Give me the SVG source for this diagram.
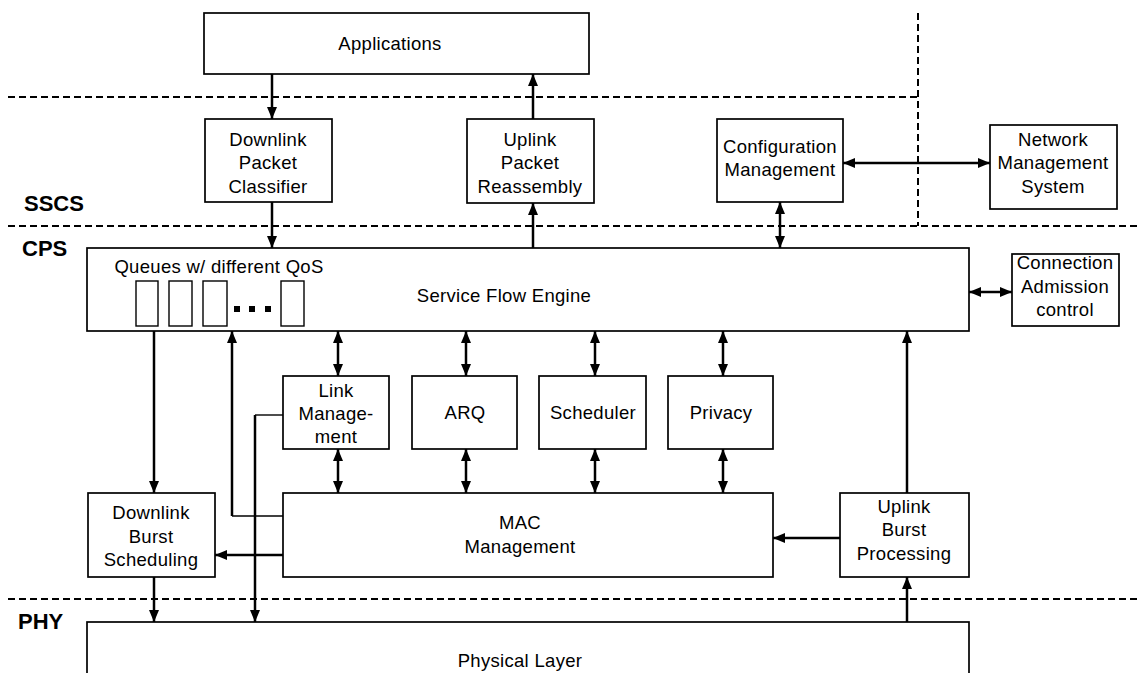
<svg xmlns="http://www.w3.org/2000/svg" width="1140" height="673" viewBox="0 0 1140 673">
  <defs>
    <marker id="head" markerUnits="userSpaceOnUse" markerWidth="13" markerHeight="11" refX="12" refY="5" orient="auto-start-reverse">
      <path d="M0,0 L12,5 L0,10 z" fill="#000"/>
    </marker>
    <style>
      .box { fill: #fff; stroke: #000; stroke-width: 1.7; }
      .q { fill: #fff; stroke: #000; stroke-width: 1.4; }
      .lbl { font-family: "Liberation Sans", Arial, Helvetica, sans-serif; font-size: 18.5px; letter-spacing: 0.3px; fill: #000; text-anchor: middle; }
      .layer { font-family: "Liberation Sans", Arial, Helvetica, sans-serif; font-size: 22px; font-weight: bold; fill: #000; }
      .dash { fill: none; stroke: #000; stroke-width: 2; stroke-dasharray: 7 4; }
      .wire { fill: none; stroke: #000; stroke-width: 2.5; }
      .thin { fill: none; stroke: #000; stroke-width: 1.4; }
      .one { marker-end: url(#head); }
      .two { marker-start: url(#head); marker-end: url(#head); }
    </style>
  </defs>
  <rect x="0" y="0" width="1140" height="673" fill="#fff"/>

  <!-- layer boundaries -->
  <g id="boundaries">
    <path class="dash" d="M8,97 H918"/>
    <path class="dash" d="M918,13 V226"/>
    <path class="dash" d="M8,226 H1140"/>
    <path class="dash" d="M8,599 H1140"/>
    <text class="layer" x="24" y="211">SSCS</text>
    <text class="layer" x="22" y="256">CPS</text>
    <text class="layer" x="18" y="629">PHY</text>
  </g>

  <g id="applications">
    <rect class="box" x="204" y="13" width="385" height="61"/>
    <text class="lbl" x="390" y="50">Applications</text>
  </g>

  <g id="downlink-packet-classifier">
    <rect class="box" x="205" y="119" width="127" height="83"/>
    <text class="lbl" x="268" y="146">Downlink</text>
    <text class="lbl" x="268" y="169">Packet</text>
    <text class="lbl" x="268" y="193">Classifier</text>
  </g>

  <g id="uplink-packet-reassembly">
    <rect class="box" x="467" y="119" width="127" height="84"/>
    <text class="lbl" x="530" y="146">Uplink</text>
    <text class="lbl" x="530" y="169">Packet</text>
    <text class="lbl" x="530" y="193">Reassembly</text>
  </g>

  <g id="configuration-management">
    <rect class="box" x="717" y="119" width="126" height="83"/>
    <text class="lbl" x="780" y="153">Configuration</text>
    <text class="lbl" x="780" y="176">Management</text>
  </g>

  <g id="network-management-system">
    <rect class="box" x="990" y="125" width="127" height="84"/>
    <text class="lbl" x="1053" y="146">Network</text>
    <text class="lbl" x="1053" y="169">Management</text>
    <text class="lbl" x="1053" y="193">System</text>
  </g>

  <g id="service-flow-engine">
    <rect class="box" x="87" y="248" width="882" height="83"/>
    <text class="lbl" x="219" y="273">Queues w/ different QoS</text>
    <rect class="q" x="136" y="281" width="22" height="45"/>
    <rect class="q" x="169" y="281" width="23" height="45"/>
    <rect class="q" x="203" y="281" width="24" height="45"/>
    <rect x="234" y="306" width="6" height="6" fill="#000"/>
    <rect x="249" y="306" width="6" height="6" fill="#000"/>
    <rect x="265" y="306" width="6" height="6" fill="#000"/>
    <rect class="q" x="281" y="281" width="23" height="45"/>
    <text class="lbl" x="504" y="302">Service Flow Engine</text>
  </g>

  <g id="connection-admission-control">
    <rect class="box" x="1012" y="254" width="107" height="72"/>
    <text class="lbl" x="1065" y="269">Connection</text>
    <text class="lbl" x="1065" y="293">Admission</text>
    <text class="lbl" x="1065" y="316">control</text>
  </g>

  <g id="link-management">
    <rect class="box" x="283" y="376" width="106" height="73"/>
    <text class="lbl" x="336" y="397">Link</text>
    <text class="lbl" x="336" y="420">Manage-</text>
    <text class="lbl" x="336" y="443">ment</text>
  </g>

  <g id="arq">
    <rect class="box" x="412" y="376" width="105" height="73"/>
    <text class="lbl" x="465" y="419">ARQ</text>
  </g>

  <g id="scheduler">
    <rect class="box" x="539" y="376" width="107" height="73"/>
    <text class="lbl" x="593" y="419">Scheduler</text>
  </g>

  <g id="privacy">
    <rect class="box" x="668" y="376" width="105" height="73"/>
    <text class="lbl" x="721" y="419">Privacy</text>
  </g>

  <g id="mac-management">
    <rect class="box" x="283" y="493" width="490" height="84"/>
    <text class="lbl" x="520" y="529">MAC</text>
    <text class="lbl" x="520" y="553">Management</text>
  </g>

  <g id="downlink-burst-scheduling">
    <rect class="box" x="88" y="493" width="127" height="84"/>
    <text class="lbl" x="151" y="519">Downlink</text>
    <text class="lbl" x="151" y="543">Burst</text>
    <text class="lbl" x="151" y="566">Scheduling</text>
  </g>

  <g id="uplink-burst-processing">
    <rect class="box" x="840" y="493" width="129" height="84"/>
    <text class="lbl" x="904" y="513">Uplink</text>
    <text class="lbl" x="904" y="536">Burst</text>
    <text class="lbl" x="904" y="560">Processing</text>
  </g>

  <g id="physical-layer">
    <rect class="box" x="87" y="622" width="882" height="70"/>
    <text class="lbl" x="520" y="667">Physical Layer</text>
  </g>

  <!-- connectors -->
  <g id="connectors">
    <path class="wire one" d="M272,74 V119"/>
    <path class="wire one" d="M533,119 V74"/>
    <path class="wire one" d="M272,202 V248"/>
    <path class="wire one" d="M533,248 V203"/>
    <path class="wire two" d="M843,163 H990"/>
    <path class="wire two" d="M780,202 V248"/>
    <path class="wire two" d="M969,292 H1012"/>

    <path class="wire two" d="M338,331 V376"/>
    <path class="wire two" d="M466,331 V376"/>
    <path class="wire two" d="M595,331 V376"/>
    <path class="wire two" d="M723,331 V376"/>

    <path class="wire two" d="M338,449 V493"/>
    <path class="wire two" d="M466,449 V493"/>
    <path class="wire two" d="M595,449 V493"/>
    <path class="wire two" d="M723,449 V493"/>

    <path class="wire one" d="M154,331 V493"/>
    <path class="wire one" d="M154,577 V622"/>
    <path class="wire one" d="M283,555 H215"/>

    <path class="thin" d="M283,516 H232"/>
    <path class="wire one" d="M232,516 V331"/>

    <path class="thin" d="M283,415 H255"/>
    <path class="wire one" d="M255,415 V622"/>

    <path class="wire one" d="M840,538 H773"/>
    <path class="wire one" d="M907,493 V331"/>
    <path class="wire one" d="M907,622 V577"/>
  </g>
</svg>
